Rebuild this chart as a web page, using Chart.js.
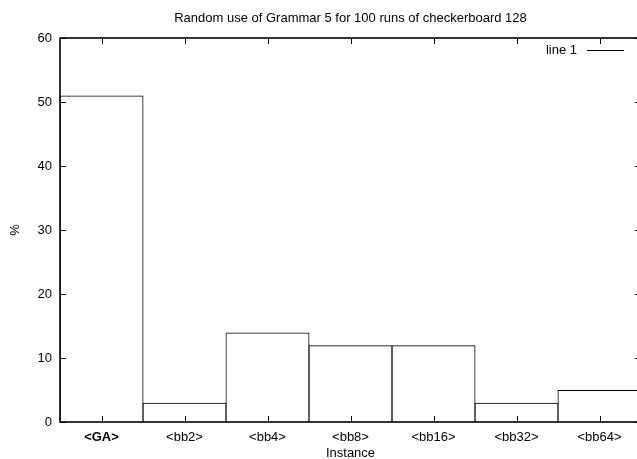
<!DOCTYPE html>
<html lang="en">
<head>
  <meta charset="UTF-8" />
  <title>Random use of Grammar 5 for 100 runs of checkerboard 128</title>
  <script src="https://cdn.jsdelivr.net/npm/chart.js"></script>
  <style>
    html, body { margin: 0; padding: 0; background: #fff; }
    #wrap { width: 637px; height: 459px; overflow: hidden; position: relative; }
    #wrap canvas { position: absolute; left: 0; top: 0; }
  </style>
</head>
<body>
  <div id="wrap">
    <canvas id="histo" width="700" height="459"></canvas>
  </div>

  <script>
    const chartTitle = "Random use of Grammar 5 for 100 runs of checkerboard 128";
    const instances = ["<GA>", "<bb2>", "<bb4>", "<bb8>", "<bb16>", "<bb32>", "<bb64>"];
    const percents = [51, 3, 14, 12, 12, 3, 5];
    const yTicks = [0, 10, 20, 30, 40, 50, 60];
    const seriesName = "line 1";
    const xTitle = "Instance";
    const yTitle = "%";

    const FONT = "Liberation Sans, Arial, Helvetica, sans-serif";

    // gnuplot-ish frame: border, inward ticks on all four sides, key, titles
    const gnuplotFrame = {
      id: "gnuplotFrame",
      afterDraw(chart) {
        const { ctx, chartArea: a, scales } = chart;
        ctx.save();
        ctx.strokeStyle = "#000";
        ctx.lineWidth = 1;

        ctx.beginPath();
        for (const v of yTicks) {
          const y = Math.round(scales.y.getPixelForValue(v)) + 0.5;
          ctx.moveTo(a.left, y); ctx.lineTo(a.left + 6, y);
          ctx.moveTo(a.right, y); ctx.lineTo(a.right - 6, y);
        }
        instances.forEach((_, i) => {
          const x = Math.round(scales.x.getPixelForValue(i)) + 0.5;
          ctx.moveTo(x, a.bottom); ctx.lineTo(x, a.bottom - 6);
          ctx.moveTo(x, a.top); ctx.lineTo(x, a.top + 6);
        });
        ctx.stroke();

        ctx.lineWidth = 1.6;
        ctx.strokeRect(a.left, a.top, a.right - a.left, a.bottom - a.top);

        ctx.fillStyle = "#000";
        ctx.font = "13px " + FONT;
        ctx.textBaseline = "middle";
        ctx.textAlign = "center";
        ctx.fillText(chartTitle, (a.left + a.right) / 2, 18);
        ctx.fillText(xTitle, (a.left + a.right) / 2, 453);

        ctx.save();
        ctx.translate(15, (a.top + a.bottom) / 2);
        ctx.rotate(-Math.PI / 2);
        ctx.fillText(yTitle, 0, 0);
        ctx.restore();

        // key
        ctx.textAlign = "right";
        ctx.fillText(seriesName, 577, 50);
        ctx.lineWidth = 1;
        ctx.beginPath();
        ctx.moveTo(587, 50.5); ctx.lineTo(624, 50.5);
        ctx.stroke();
        ctx.restore();
      }
    };

    new Chart(document.getElementById("histo"), {
      type: "bar",
      data: {
        labels: instances,
        datasets: [{
          label: seriesName,
          data: percents,
          backgroundColor: "rgba(0,0,0,0)",
          borderColor: "#000",
          borderWidth: 1,
          // a hair wider than the slot so neighbouring edges land on the same pixel
          barPercentage: 1 + 1 / 83,
          categoryPercentage: 1
        }]
      },
      options: {
        responsive: false,
        animation: false,
        devicePixelRatio: 1,
        layout: { padding: { left: 0, top: 38, right: 59, bottom: 0 } },
        plugins: { legend: { display: false }, title: { display: false }, tooltip: { enabled: false } },
        scales: {
          x: {
            grid: { display: false, drawTicks: false },
            border: { display: false },
            ticks: {
              color: "#000",
              padding: 8,
              maxRotation: 0,
              autoSkip: false,
              font: c => ({ family: FONT, size: 13, weight: c.index === 0 ? "bold" : "normal" })
            },
            afterFit: s => { s.height = 37; }
          },
          y: {
            min: 0,
            max: 60,
            grid: { display: false, drawTicks: false },
            border: { display: false },
            ticks: { stepSize: 10, color: "#000", padding: 8, font: { family: FONT, size: 13 } },
            afterFit: s => { s.width = 60; }
          }
        }
      },
      plugins: [gnuplotFrame]
    });
  </script>
</body>
</html>
